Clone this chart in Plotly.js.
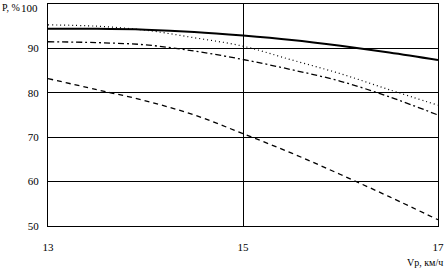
<!DOCTYPE html>
<html>
<head>
<meta charset="utf-8">
<script src="https://cdn.plot.ly/plotly-3.0.1.min.js"></script>
<style>html,body{margin:0;padding:0;background:#fff;}#chart{width:446px;height:271px;}</style>
</head>
<body>
<div id="chart"></div>
<script>
// Speed Vp, km/h
const speed = [13, 13.5, 14, 14.5, 15, 15.5, 16, 16.5, 17];
// Probability P, % for four cases
const seriesSolid   = [94.4, 94.4, 94.2, 93.7, 92.9, 91.9, 90.6, 89.1, 87.4];
const seriesDotted  = [95.3, 95.0, 94.1, 92.4, 90.5, 87.4, 84.3, 80.7, 77.2];
const seriesDashDot = [91.5, 91.3, 90.8, 89.4, 87.5, 85.2, 82.6, 79.1, 75.0];
const seriesDashed  = [83.2, 80.7, 78.2, 75.0, 70.8, 66.4, 61.6, 56.6, 51.4];
const xTicks = [13, 15, 17];
const yTicks = [50, 60, 70, 80, 90, 100];
const yTopLabel = '100';

const mk = (y, dash, w) => ({
  x: speed, y: y, type: 'scatter', mode: 'lines', line: {shape: 'spline', color: '#000', width: w, dash: dash},
  showlegend: false, hoverinfo: 'skip', cliponaxis: false
});

const data = [
  mk(seriesDashed, '5px,4px', 1.3),
  mk(seriesDashDot, '6px,3px,2px,3px', 1.3),
  mk(seriesDotted, '1px,3px', 1.2),
  mk(seriesSolid, 'solid', 2)
];

const font = {family: 'Liberation Serif, serif', size: 11, color: '#000'};
const small = {family: 'Liberation Serif, serif', size: 10, color: '#000'};
const layout = {
  width: 446, height: 271,
  margin: {l: 48, r: 8, t: 4, b: 45},
  paper_bgcolor: '#fff', plot_bgcolor: '#fff',
  font: font,
  xaxis: {
    range: [13, 17], tickvals: xTicks, ticktext: xTicks.map(String),
    showgrid: true, gridcolor: '#000', gridwidth: 1,
    showline: true, linecolor: '#000', linewidth: 1, mirror: true,
    zeroline: false, ticks: '', ticklabelstandoff: 11, tickfont: font,
    ticklabeloverflow: 'allow'
  },
  yaxis: {
    range: [50, 100], tickvals: yTicks,
    ticktext: yTicks.map(v => v === 100 ? '' : String(v)),
    showgrid: true, gridcolor: '#000', gridwidth: 1,
    showline: true, linecolor: '#000', linewidth: 1, mirror: true,
    zeroline: false, ticks: '', ticklabelstandoff: 6, tickfont: font,
    ticklabeloverflow: 'allow'
  },
  annotations: [
    {text: 'P, %', xref: 'paper', yref: 'paper', x: -0.123, y: 1.018, xanchor: 'left', yanchor: 'top', showarrow: false, font: small},
    {text: yTopLabel, xref: 'paper', yref: 'paper', x: -0.02, y: 1.018, xanchor: 'right', yanchor: 'top', showarrow: false, font: font},
    {text: 'Vp, км/ч', xref: 'paper', yref: 'paper', x: 1.018, y: -0.198, xanchor: 'right', yanchor: 'bottom', showarrow: false, font: small}
  ]
};

Plotly.newPlot('chart', data, layout, {displayModeBar: false, staticPlot: true});
</script>
</body>
</html>
